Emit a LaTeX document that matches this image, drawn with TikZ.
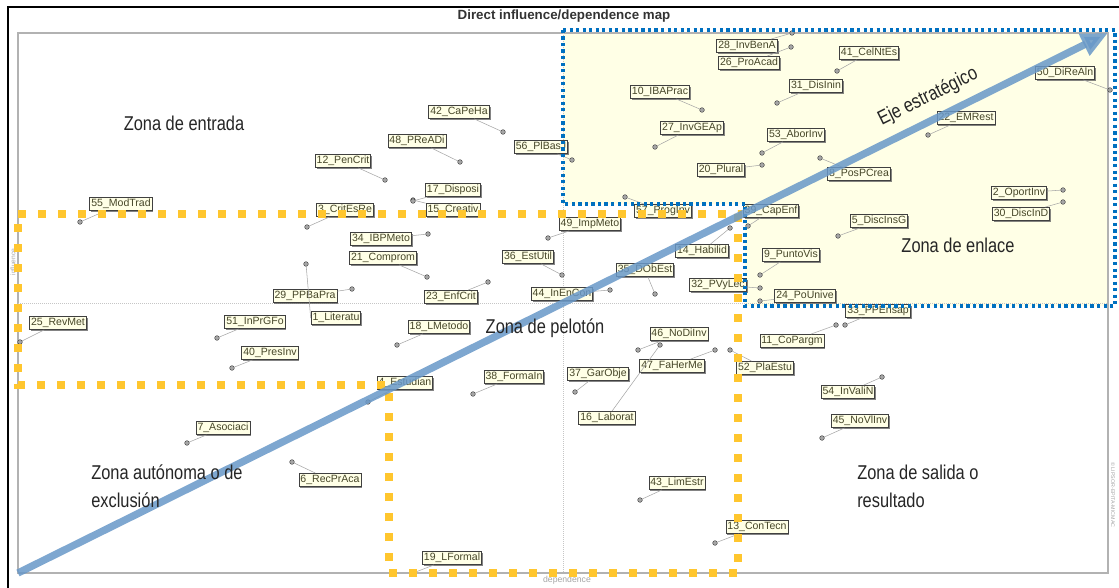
\documentclass[tikz,border=0pt]{standalone}
\usepackage{fontspec}
\setmainfont{Liberation Sans}
\usetikzlibrary{arrows.meta,shadows}
\definecolor{cream}{RGB}{255,255,230}
\definecolor{zoneblue}{RGB}{0,112,192}
\definecolor{zoneyel}{RGB}{255,198,46}
\definecolor{axisblue}{RGB}{104,152,200}
\definecolor{tagtext}{RGB}{70,70,40}
\newcommand{\sx}[1]{\scalebox{0.82}[1]{#1}}
\begin{document}
\begin{tikzpicture}[x=0.75pt,y=-0.75pt,
  tagbox/.style={draw=black!75, line width=0.6pt, fill=cream, inner sep=1.1pt, minimum height=9.8pt,
    font=\fontsize{7.9}{8.5}\selectfont, text=tagtext,
    drop shadow={shadow xshift=1pt,shadow yshift=-1pt,fill=black!60,opacity=0.8}},
  pinpt/.style={circle, fill=gray!70, draw=gray!40!black, line width=0.3pt, inner sep=0pt, minimum size=3.5pt},
  linkline/.style={draw=gray!70, line width=0.4pt},
  zonetxt/.style={font=\fontsize{15}{21}\selectfont, align=left, inner sep=0pt, text=black!85},
  smalltxt/.style={font=\fontsize{5}{6}\selectfont, text=gray!70, inner sep=0pt}]
\useasboundingbox (0,0) rectangle (1119,588);
\fill[white] (0,0) rectangle (1119,588);
% outer frame
\draw[black, line width=1.2pt] (8,588) -- (8,7) -- (1119,7);
% title
\node[font=\bfseries\fontsize{10}{11}\selectfont, text=black!80] (title) at (564,16) {Direct influence/dependence map};
% zone fill
\fill[cream] (563,33) -- (1108,33) -- (1108,306) -- (745,306) -- (745,204) -- (563,204) -- cycle;
% plot frame
\draw[gray!60, line width=1.3pt] (18,33) rectangle (1108,573);
% axes
\draw[gray!45, densely dotted, line width=0.5pt] (18,303) -- (1108,303);
\draw[gray!45, densely dotted, line width=0.5pt] (563,33) -- (563,573);
\node[smalltxt, rotate=90] (ylab) at (13,262) {influence};
\node[smalltxt, font=\fontsize{6.5}{7}\selectfont] (xlab) at (567,580) {dependence};
\node[smalltxt, rotate=-90, font=\fontsize{4}{5}\selectfont] (copy) at (1113,495) {\textcopyright{} LIPSOR-EPITA-MICMAC};

% pins
\foreach \n/\px/\py in {28/792/33, 26/791/47, 41/837/71, 31/777/103, 10/702/110, 27/655/147, 53/762/153,
  20/762/165, 8/820/158, 22/928/135, 50/1110/90, 2/1063/190, 30/1063/202, 5/838/236, 39/748/226, 14/730/228,
  9/760/275, 24/760/301, 32/760/288, 35/655/294, 44/610/290, 49/548/238, 57/625/197, 36/562/275,
  46/638/350, 47/715/350, 52/730/350, 11/836/325, 37/575/392, 33/845/325, 54/882/377, 45/822/438,
  16/660/345, 43/640/500, 13/715/543, 19/413/573, 6/292/462, 7/187/443, 4/368/402, 38/473/394,
  18/397/345, 23/488/282, 1/306/264, 29/352/289, 21/427/277, 34/428/234, 3/307/227, 15/413/200,
  17/413/201, 12/385/180, 48/460/162, 42/503/132, 56/572/160, 55/80/222, 25/20/342, 51/217/338, 40/232/368}
  {\node[pinpt] (p\n) at (\px,\py) {};}

% tags
\node[tagbox] (t28) at (747,46) {28\_InvBenA};
\node[tagbox] (t26) at (749,63) {26\_ProAcad};
\node[tagbox] (t41) at (869,53) {41\_CelNtEs};
\node[tagbox] (t31) at (816,86) {31\_DisInin};
\node[tagbox] (t10) at (660,92) {10\_IBAPrac};
\node[tagbox] (t27) at (692,128) {27\_InvGEAp};
\node[tagbox] (t53) at (796,135) {53\_AborInv};
\node[tagbox] (t20) at (721,170) {20\_Plural};
\node[tagbox] (t8) at (859,174) {8\_PosPCrea};
\node[tagbox] (t22) at (966,118) {22\_EMRest};
\node[tagbox] (t50) at (1065,73) {50\_DiReAln};
\node[tagbox] (t2) at (1019,193) {2\_OportInv};
\node[tagbox] (t30) at (1021,214) {30\_DiscInD};
\node[tagbox] (t5) at (879,221) {5\_DiscInsG};
\node[tagbox] (t39) at (771,211) {39\_CapEnf};
\node[tagbox] (t14) at (702,251) {14\_Habilid};
\node[tagbox] (t9) at (791,255) {9\_PuntoVis};
\node[tagbox] (t24) at (805,296) {24\_PoUnive};
\node[tagbox] (t32) at (718,285) {32\_PVyLec};
\node[tagbox] (t35) at (645,270) {35\_DObEst};
\node[tagbox] (t44) at (562,294) {44\_InEnCon};
\node[tagbox] (t49) at (590,224) {49\_ImpMeto};
\node[tagbox] (t57) at (663,211) {57\_ProgInv};
\node[tagbox] (t36) at (528,257) {36\_EstUtil};
\node[tagbox] (t46) at (679,334) {46\_NoDiInv};
\node[tagbox] (t47) at (672,366) {47\_FaHerMe};
\node[tagbox] (t52) at (765,368) {52\_PlaEstu};
\node[tagbox] (t11) at (792,341) {11\_CoPargm};
\node[tagbox] (t37) at (598,374) {37\_GarObje};
\node[tagbox] (t33) at (878,311) {33\_PPEnsap};
\node[tagbox] (t54) at (848,392) {54\_InValiN};
\node[tagbox] (t45) at (860,421) {45\_NoVlInv};
\node[tagbox] (t16) at (607,418) {16\_Laborat};
\node[tagbox] (t43) at (677,483) {43\_LimEstr};
\node[tagbox] (t13) at (757,527) {13\_ConTecn};
\node[tagbox] (t19) at (452,558) {19\_LFormal};
\node[tagbox] (t6) at (330,480) {6\_RecPrAca};
\node[tagbox] (t7) at (223,428) {7\_Asociaci};
\node[tagbox] (t4) at (405,383) {4\_Estudian};
\node[tagbox] (t38) at (514,377) {38\_FormaIn};
\node[tagbox] (t18) at (439,327) {18\_LMetodo};
\node[tagbox] (t23) at (451,297) {23\_EnfCrit};
\node[tagbox] (t1) at (336,318) {1\_Literatu};
\node[tagbox] (t29) at (305,296) {29\_PPBaPra};
\node[tagbox] (t21) at (383,258) {21\_Comprom};
\node[tagbox] (t34) at (381,239) {34\_IBPMeto};
\node[tagbox] (t3) at (345,210) {3\_CritEsRe};
\node[tagbox] (t15) at (453,210) {15\_Creativ};
\node[tagbox] (t17) at (453,190) {17\_Disposi};
\node[tagbox] (t12) at (343,161) {12\_PenCrit};
\node[tagbox] (t48) at (417,141) {48\_PReADi};
\node[tagbox] (t42) at (459,112) {42\_CaPeHa};
\node[tagbox] (t56) at (541,147) {56\_PlBasJ};
\node[tagbox] (t55) at (121,204) {55\_ModTrad};
\node[tagbox] (t25) at (58,323) {25\_RevMet};
\node[tagbox] (t51) at (255,322) {51\_InPrGFo};
\node[tagbox] (t40) at (270,353) {40\_PresInv};

% connectors
\foreach \n in {28,26,41,31,10,27,53,20,8,22,50,2,30,5,39,14,9,24,32,35,44,49,57,36,46,47,52,11,37,33,54,45,16,43,13,19,6,7,4,38,18,23,29,21,34,3,15,17,12,48,42,56,55,25,51,40}
  {\draw[linkline] (t\n) -- (p\n);}
\draw[linkline] (t1.west) -- (p1);

% zone outlines
\draw[zoneyel, line width=6pt, dash pattern=on 6pt off 9pt] (18,214) -- (738,214) -- (738,573) -- (389,573) -- (389,385) -- (18,385) -- cycle;
\draw[zoneblue, line width=2.4pt, dash pattern=on 2.4pt off 2.5pt] (563,30) -- (1115,30) -- (1115,306) -- (745,306) -- (745,204) -- (563,204) -- cycle;

% strategic axis
\coordinate (ax0) at (18,573);
\coordinate (ax1) at (1108,33);
\draw[axisblue, opacity=0.85, line width=5.5pt, -{Triangle[length=20pt,width=17pt]}] (ax0) -- (ax1);
\node[zonetxt, rotate=26.4] (eje) at (928,97) {\sx{Eje estratégico}};

% zone labels
\node[zonetxt] (zent) at (184,123) {\sx{Zona de entrada}};
\node[zonetxt] (zpel) at (545,328) {\sx{Zona de pelotón}};
\node[zonetxt] (zenl) at (958,245) {\sx{Zona de enlace}};
\node[zonetxt, anchor=west] (zaut) at (91,486) {\sx{Zona autónoma o de}\\\sx{exclusión}};
\node[zonetxt, anchor=west] (zsal) at (857,486) {\sx{Zona de salida o}\\\sx{resultado}};
\end{tikzpicture}
\end{document}
